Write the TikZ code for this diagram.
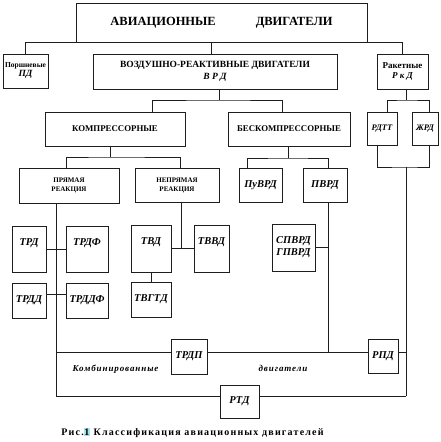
\documentclass[tikz,border=0pt]{standalone}
\usepackage{fontspec}
\setmainfont{Liberation Serif}
\newfontfamily\spacedfont[LetterSpace=10]{Liberation Serif}
\newfontfamily\capfont[LetterSpace=12]{Liberation Serif}
\usetikzlibrary{positioning,calc}
\definecolor{schemeink}{HTML}{1E1E1E}
\definecolor{markcyan}{HTML}{A8E4EE}

\begin{document}
\begin{tikzpicture}[x=1pt, y=-1pt,
  box/.style={draw=schemeink, line width=1pt, inner sep=1pt, align=center,
              font=\bfseries\fontsize{8.8}{10}\selectfont},
  abbr/.style={box, font=\bfseries\itshape\fontsize{10.5}{12}\selectfont},
  tall/.style={abbr, text depth=14pt},
  small/.style={box, font=\bfseries\fontsize{7}{9}\selectfont},
  wire/.style={draw=schemeink, line width=1pt}
]
\useasboundingbox (0,0) rectangle (440,442);

% upper levels
\node[box, minimum width=291, minimum height=39, font=\bfseries\fontsize{12.5}{15}\selectfont]
  (avia) at (221.5,22.5) {АВИАЦИОННЫЕ\hspace{40pt}ДВИГАТЕЛИ};
\node[box, minimum width=45, minimum height=34, font=\bfseries\fontsize{7.5}{9}\selectfont]
  (pd) at (25.5,71) {Поршневые\\{\itshape\fontsize{9.5}{10}\selectfont ПД}};
\node[box, minimum width=244, minimum height=35, font=\bfseries\fontsize{9.5}{12}\selectfont]
  (vrd) at (215,71.5) {ВОЗДУШНО-РЕАКТИВНЫЕ ДВИГАТЕЛИ\\{\itshape В Р Д}};
\node[box, minimum width=51, minimum height=35, font=\bfseries\fontsize{9}{10}\selectfont]
  (rkd) at (402.5,71.5) {Ракетные\\{\itshape Р к Д}};

\node[box, minimum width=140, minimum height=34] (komp) at (115,129) {КОМПРЕССОРНЫЕ};
\node[box, minimum width=122, minimum height=34] (beskomp) at (289,129) {БЕСКОМПРЕССОРНЫЕ};
\node[abbr, minimum width=30, minimum height=33, font=\bfseries\itshape\fontsize{8.5}{10}\selectfont]
  (rdtt) at (382,128.5) {РДТТ};
\node[abbr, minimum width=26, minimum height=33, font=\bfseries\itshape\fontsize{8.5}{10}\selectfont]
  (zhrd) at (425,128.5) {ЖРД};

\node[small, minimum width=100, minimum height=35] (pryam) at (69,185.5) {ПРЯМАЯ\\РЕАКЦИЯ};
\node[small, minimum width=84, minimum height=34] (nepryam) at (177,185) {НЕПРЯМАЯ\\РЕАКЦИЯ};
\node[abbr, minimum width=43, minimum height=34] (puvrd) at (260.5,185) {ПуВРД};
\node[abbr, minimum width=44, minimum height=34] (pvrd) at (325,185) {ПВРД};

% engine types
\node[tall, minimum width=34, minimum height=46] (trd) at (29,249) {ТРД};
\node[tall, minimum width=42, minimum height=46] (trdf) at (87,249) {ТРДФ};
\node[abbr, minimum width=34, minimum height=35] (trdd) at (29,300.5) {ТРДД};
\node[abbr, minimum width=42, minimum height=35] (trddf) at (87,300.5) {ТРДДФ};
\node[tall, minimum width=40, minimum height=47] (tvd) at (151,248.5) {ТВД};
\node[tall, minimum width=35, minimum height=47] (tvvd) at (211.5,248.5) {ТВВД};
\node[abbr, minimum width=40, minimum height=35] (tvgtd) at (151,299.5) {ТВГТД};
\node[abbr, minimum width=43, minimum height=47] (spvrd) at (293.5,247.5) {СПВРД\\ГПВРД};

% combined engines
\node[abbr, minimum width=36, minimum height=35] (trdp) at (189,356.5) {ТРДП};
\node[abbr, minimum width=30, minimum height=34] (rpd) at (383,356) {РПД};
\node[abbr, minimum width=39, minimum height=33] (rtd) at (239.5,401.5) {РТД};
\node[font=\spacedfont\bfseries\itshape\fontsize{9}{10}\selectfont] (kombi) at (115.5,369) {Комбинированные};
\node[font=\spacedfont\bfseries\itshape\fontsize{9}{10}\selectfont] (dvig) at (283,368) {двигатели};

\node[font=\capfont\bfseries\fontsize{10}{12}\selectfont] (caption) at (192.5,433)
  {Рис.{\setlength{\fboxsep}{0.6pt}\colorbox{markcyan}{1}} Классификация авиационных двигателей};

% junctions
\coordinate (vrdfork) at (219,100);
\coordinate (kompfork) at (110,157);
\coordinate (beskfork) at (288,158);
\coordinate (rkdfork) at (406,100);
\coordinate (rkdjoin) at (406,167);
\coordinate (rbus) at (406,396);
\coordinate (lbus) at (56,396);
\coordinate (cbus) at (56,352);
\coordinate (pvrdline) at ([xshift=3pt]pvrd.south);
\coordinate (nepline) at ([xshift=4pt]nepryam.south);

\draw[wire] (pd.north) |- (avia.south west);
\draw[wire] (rkd.north) |- (avia.south east);
\draw[wire] ([xshift=-4pt]vrd.north) -- ([xshift=-4pt]vrd.north |- avia.south);

\draw[wire] (vrdfork |- vrd.south) -- (vrdfork);
\draw[wire] ([xshift=37pt]komp.north) |- (vrdfork) -| ([xshift=-7pt]beskomp.north);
\draw[wire] (kompfork |- komp.south) -- (kompfork);
\draw[wire] ([xshift=-3pt]pryam.north) |- (kompfork) -| ([xshift=3pt]nepryam.north);
\draw[wire] (beskfork |- beskomp.south) -- (beskfork);
\draw[wire] ([xshift=-13.5pt]puvrd.north) |- (beskfork) -| ([xshift=3pt]pvrd.north);
\draw[wire] (rkdfork |- rkd.south) -- (rkdfork);
\draw[wire] ([xshift=5pt]rdtt.north) |- (rkdfork) -| ([xshift=4pt]zhrd.north);

\draw[wire] ([xshift=-5pt]rdtt.south) |- (rkdjoin) -| ([xshift=4pt]zhrd.south);
\draw[wire] (rkdjoin) -- (rbus);

\draw[wire] (trd) -- (trdf);
\draw[wire] ([yshift=6.5pt]trdd.east) -- ([yshift=6.5pt]trddf.west);
\draw[wire] (nepline) -- (nepline |- tvd.east);
\draw[wire] (tvd) -- (tvvd);
\draw[wire] (tvd) -- (tvgtd);
\draw[wire] (pvrdline) -- (pvrdline |- cbus);
\draw[wire] (spvrd.east) -- (spvrd.east -| pvrdline);

\draw[wire] (lbus |- pryam.south) -- (lbus) -- (lbus -| rtd.west);
\draw[wire] (lbus -| rtd.east) -- (rbus);
\draw[wire] (cbus) -- (cbus -| trdp.west);
\draw[wire] (cbus -| trdp.east) -- (cbus -| rpd.west);
\draw[wire] (cbus -| rpd.east) -- (cbus -| rbus);
\end{tikzpicture}
\end{document}
